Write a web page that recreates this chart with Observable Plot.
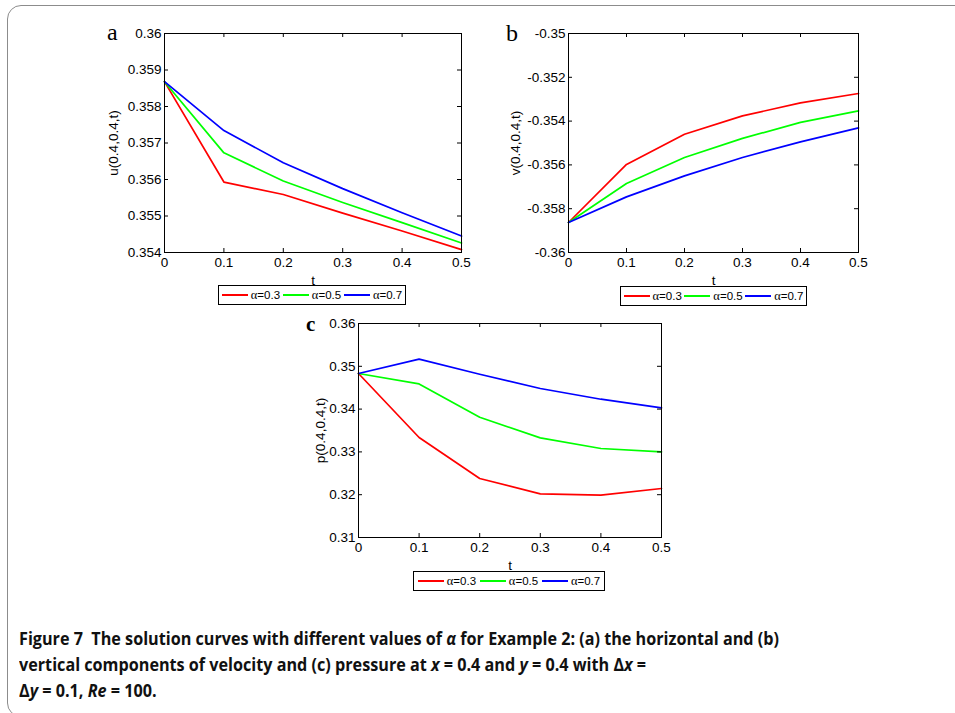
<!DOCTYPE html>
<html><head><meta charset="utf-8">
<script src="https://cdn.jsdelivr.net/npm/d3@7"></script>
<script src="https://cdn.jsdelivr.net/npm/@observablehq/plot@0.6"></script>
<style>
html,body{margin:0;padding:0;background:#fff;overflow:hidden;width:955px;height:713px}
#root{position:relative;width:955px;height:713px;overflow:hidden}
.frameBox{position:absolute;left:7px;top:5px;width:1000px;height:712px;border:1.5px solid #8c8c8c;border-radius:14px;box-sizing:border-box}
.leg{position:absolute;height:20px;box-sizing:border-box;border:1px solid #000;background:#fff;display:flex;align-items:center;justify-content:space-evenly;font-family:"Liberation Sans",Arial,sans-serif;font-size:11.5px;color:#000}
.leg .it{display:flex;align-items:center}
.leg .ln{display:inline-block;width:26px;height:2px;margin-right:3px}
.leg .al{font-family:"Liberation Serif","Times New Roman",serif;font-size:12.5px}
.cap{position:absolute;left:19px;top:625px;white-space:nowrap;font-family:"Open Sans",sans-serif;font-weight:700;font-size:18px;line-height:26px;color:#111;transform-origin:0 0}
svg.panel{position:absolute}
</style></head><body><div id="root"><div class="frameBox"></div></div>
<script>
const t = [0, 0.1, 0.2, 0.3, 0.4, 0.5];
const alphas = ["α=0.3", "α=0.5", "α=0.7"];
const colors = ["#ff0000", "#00ff00", "#0000ff"];

// (a) u(0.4,0.4,t)
const u_a03 = [0.35868, 0.35593, 0.35559, 0.35508, 0.35459, 0.35408];
const u_a05 = [0.35868, 0.35673, 0.35596, 0.35537, 0.35482, 0.35426];
const u_a07 = [0.35868, 0.35734, 0.35646, 0.35575, 0.35509, 0.35445];
// (b) v(0.4,0.4,t)
const v_a03 = [-0.35863, -0.35598, -0.35460, -0.35376, -0.35317, -0.35274];
const v_a05 = [-0.35863, -0.35685, -0.35566, -0.35479, -0.35406, -0.35353];
const v_a07 = [-0.35863, -0.35746, -0.35650, -0.35566, -0.35495, -0.35431];
// (c) p(0.4,0.4,t)
const p_a03 = [0.34832, 0.33336, 0.32378, 0.32019, 0.31988, 0.32145];
const p_a05 = [0.34832, 0.34589, 0.33811, 0.33327, 0.33079, 0.33000];
const p_a07 = [0.34832, 0.35166, 0.34815, 0.34481, 0.34231, 0.34028];

const xTicks = [0, 0.1, 0.2, 0.3, 0.4, 0.5];
const uTicks = [0.354, 0.355, 0.356, 0.357, 0.358, 0.359, 0.36];
const vTicks = [-0.36, -0.358, -0.356, -0.354, -0.352, -0.35];
const pTicks = [0.31, 0.32, 0.33, 0.34, 0.35, 0.36];

const axisFont = "'Liberation Sans', Arial, sans-serif";
const axisSize = 13.5;

const fmt = d => String(+(+d).toFixed(4));
const root = document.getElementById("root");

function panel({series, yDomain, yTicks, yLabel, left, top, ml, mt, pw, ph, labelOff}) {
  const rows = [];
  series.forEach((vals, i) => vals.forEach((v, j) => rows.push({t: t[j], v, a: alphas[i]})));
  const mr = 12, mb = 45;
  const svg = Plot.plot({
    width: ml + pw + mr, height: mt + ph + mb,
    marginLeft: ml, marginTop: mt, marginRight: mr, marginBottom: mb,
    style: {fontFamily: axisFont, fontSize: axisSize + "px", background: "transparent", overflow: "visible", color: "#000"},
    x: {domain: [0, 0.5]},
    y: {domain: yDomain},
    color: {domain: alphas, range: colors},
    marks: [
      Plot.line(rows, {x: "t", y: "v", stroke: "a", strokeWidth: 1.7}),
      Plot.frame({stroke: "#000", strokeWidth: 1}),
      Plot.tickX(xTicks, {x: d => d, insetTop: ph - 4, stroke: "#000"}),
      Plot.tickX(xTicks, {x: d => d, insetBottom: ph - 4, stroke: "#000"}),
      Plot.tickY(yTicks, {y: d => d, insetRight: pw - 4, stroke: "#000"}),
      Plot.tickY(yTicks, {y: d => d, insetLeft: pw - 4, stroke: "#000"}),
      Plot.axisX({ticks: xTicks, tickSize: 0, tickPadding: 5, tickFormat: fmt, label: null, fontSize: axisSize}),
      Plot.axisY({ticks: yTicks, tickSize: 0, tickPadding: 3, tickFormat: fmt, label: null, fontSize: axisSize}),
      Plot.text([yLabel], {text: d => d, frameAnchor: "left", dx: -labelOff, rotate: -90, lineAnchor: "middle", textAnchor: "middle", fontSize: axisSize}),
      Plot.text(["t"], {text: d => d, frameAnchor: "bottom", dy: 23, lineAnchor: "top", fontSize: axisSize})
    ]
  });
  svg.classList.add("panel");
  svg.style.left = (left - ml) + "px";
  svg.style.top = (top - mt) + "px";
  root.appendChild(svg);
}

function legend(left, top, width) {
  const d = document.createElement("div");
  d.className = "leg";
  d.style.left = left + "px"; d.style.top = top + "px"; d.style.width = width + "px";
  alphas.forEach((a, i) => {
    const it = document.createElement("span"); it.className = "it";
    const ln = document.createElement("span"); ln.className = "ln"; ln.style.background = colors[i];
    const tx = document.createElement("span");
    tx.innerHTML = '<span class="al">' + a.charAt(0) + '</span>' + a.slice(1);
    it.appendChild(ln); it.appendChild(tx); d.appendChild(it);
  });
  root.appendChild(d);
}

panel({series: [u_a03, u_a05, u_a07], yDomain: [0.354, 0.36], yTicks: uTicks, yLabel: "u(0.4,0.4,t)",
  left: 164, top: 33, ml: 70, mt: 13, pw: 297, ph: 219, labelOff: 51});
panel({series: [v_a03, v_a05, v_a07], yDomain: [-0.36, -0.35], yTicks: vTicks, yLabel: "v(0.4,0.4,t)",
  left: 568, top: 33, ml: 72, mt: 13, pw: 290, ph: 219, labelOff: 53});
panel({series: [p_a03, p_a05, p_a07], yDomain: [0.31, 0.36], yTicks: pTicks, yLabel: "p(0.4,0.4,t)",
  left: 358, top: 323, ml: 62, mt: 13, pw: 303, ph: 214, labelOff: 38});

legend(218, 285, 188);
legend(620, 286, 187);
legend(413, 571, 192);

// panel letters
const ns = "http://www.w3.org/2000/svg";
const ov = document.createElementNS(ns, "svg");
ov.setAttribute("width", 955); ov.setAttribute("height", 713);
ov.style.position = "absolute"; ov.style.left = "0"; ov.style.top = "0"; ov.style.pointerEvents = "none";
[["a", 107, 40, 24, "normal"], ["b", 506, 41, 24, "normal"], ["c", 306, 331, 21, "bold"]].forEach(([s, x, y, fs, fw]) => {
  const e = document.createElementNS(ns, "text");
  e.setAttribute("x", x); e.setAttribute("y", y);
  e.setAttribute("font-family", "'Liberation Serif', 'Times New Roman', serif");
  e.setAttribute("font-size", fs); e.setAttribute("font-weight", fw);
  e.textContent = s; ov.appendChild(e);
});
root.appendChild(ov);

// caption
const cap = document.createElement("div");
cap.className = "cap";
cap.innerHTML = '<span id="l1">Figure 7&nbsp;&nbsp;The solution curves with different values of <i>α</i> for Example 2: (a) the horizontal and (b)</span><br>' +
  'vertical components of velocity and (c) pressure at <i>x</i> = 0.4 and <i>y</i> = 0.4 with Δ<i>x</i> =<br>' +
  'Δ<i>y</i> = 0.1, <i>Re</i> = 100.';
root.appendChild(cap);
const w1 = document.getElementById("l1").getBoundingClientRect().width;
cap.style.transform = "scaleX(" + (760 / w1) + ")";
</script>
</body></html>
